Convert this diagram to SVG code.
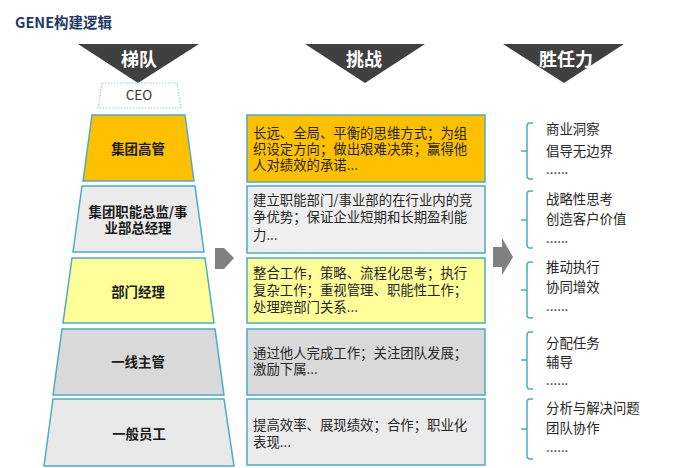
<svg xmlns="http://www.w3.org/2000/svg" width="673" height="468" viewBox="0 0 673 468">
<style>
.t{font-family:"Noto Sans CJK SC","Noto Sans",sans-serif;}
.hd{font-size:18px;font-weight:bold;fill:#ffffff;text-anchor:middle;}
.lv{font-size:13.4px;font-weight:bold;fill:#1a1a1a;text-anchor:middle;}
.bx{font-size:13.4px;fill:#262626;}
.cp{font-size:13.4px;fill:#333333;}
.lvl{stroke:#4BACC6;stroke-width:1.5;}
.br{fill:none;stroke:#4BACC6;stroke-width:1.5;}
.tri{fill:#404040;}
.arr{fill:#808080;}
</style>
<rect width="673" height="468" fill="#ffffff"/>
<text class="t" x="15" y="28" font-size="14.5" font-weight="bold" fill="#1F3864">GENE构建逻辑</text>

<g id="header-tidui"><polygon class="tri" points="78,44 199,44 138,83"/><text class="t hd" x="139" y="66">梯队</text></g>
<g id="header-tiaozhan"><polygon class="tri" points="305,44 425,44 365,83"/><text class="t hd" x="364" y="66">挑战</text></g>
<g id="header-shengrenli"><polygon class="tri" points="503,44 624,44 564,83"/><text class="t hd" x="566" y="66">胜任力</text></g>

<g id="ceo"><polygon points="102,83 177,83 181,108 98,108" fill="#ffffff" stroke="#8FD3D8" stroke-width="1.2" stroke-dasharray="1.5,1.5"/><text class="t cp" x="139" y="100" text-anchor="middle" font-family="Noto Sans">CEO</text></g>

<g id="level1"><polygon class="lvl" points="92,115 185,115 194,181 83,181" fill="#FFC000"/><text class="t lv" x="138" y="154">集团高管</text></g>
<g id="level2"><polygon class="lvl" points="82,186 195,186 204,252 73,252" fill="#EBEBEB"/><text class="t lv" x="138" y="217">集团职能总监/事</text><text class="t lv" x="138" y="233">业部总经理</text></g>
<g id="level3"><polygon class="lvl" points="72,258 205,258 214,323 63,323" fill="#FFFF9A"/><text class="t lv" x="138" y="297">部门经理</text></g>
<g id="level4"><polygon class="lvl" points="62,329 215,329 224,395 53,395" fill="#D9D9D9"/><text class="t lv" x="138" y="367">一线主管</text></g>
<g id="level5"><polygon class="lvl" points="53,399 224,399 234,466 44,466" fill="#E8E8E8"/><text class="t lv" x="139" y="439">一般员工</text></g>

<g id="challenge1"><rect class="lvl" x="247" y="115" width="238" height="67" fill="#FFC000"/>
<text class="t bx" x="253" y="138">长远、全局、平衡的思维方式；为组</text>
<text class="t bx" x="253" y="154">织设定方向；做出艰难决策；赢得他</text>
<text class="t bx" x="253" y="170">人对绩效的承诺...</text></g>
<g id="challenge2"><rect class="lvl" x="247" y="186" width="238" height="67" fill="#EFEFEF"/>
<text class="t bx" x="253" y="205">建立职能部门/事业部的在行业内的竞</text>
<text class="t bx" x="253" y="222">争优势；保证企业短期和长期盈利能</text>
<text class="t bx" x="253" y="240">力...</text></g>
<g id="challenge3"><rect class="lvl" x="247" y="258" width="238" height="65" fill="#FFFF9A"/>
<text class="t bx" x="253" y="278">整合工作，策略、流程化思考；执行</text>
<text class="t bx" x="253" y="295">复杂工作；重视管理、职能性工作；</text>
<text class="t bx" x="253" y="312">处理跨部门关系...</text></g>
<g id="challenge4"><rect class="lvl" x="247" y="329" width="238" height="66" fill="#D9D9D9"/>
<text class="t bx" x="253" y="358">通过他人完成工作；关注团队发展；</text>
<text class="t bx" x="253" y="374">激励下属...</text></g>
<g id="challenge5"><rect class="lvl" x="247" y="399" width="238" height="66" fill="#EBEBEB"/>
<text class="t bx" x="253" y="430">提高效率、展现绩效；合作；职业化</text>
<text class="t bx" x="253" y="447">表现...</text></g>

<g id="comp1"><path class="br" d="M533,123 H530 Q527,123 527,126 V151 M521,151 H527 M527,151 V176 Q527,179 530,179 H533"/>
<text class="t bx" x="546" y="134">商业洞察</text><text class="t bx" x="546" y="156">倡导无边界</text><text class="t bx" x="546" y="174">......</text></g>
<g id="comp2"><path class="br" d="M533,191 H530 Q527,191 527,194 V220 M521,220 H527 M527,220 V245 Q527,248 530,248 H533"/>
<text class="t bx" x="546" y="204">战略性思考</text><text class="t bx" x="546" y="224">创造客户价值</text><text class="t bx" x="546" y="243">......</text></g>
<g id="comp3"><path class="br" d="M533,262 H530 Q527,262 527,265 V290 M521,290 H527 M527,290 V315 Q527,318 530,318 H533"/>
<text class="t bx" x="546" y="272">推动执行</text><text class="t bx" x="546" y="292">协同增效</text><text class="t bx" x="546" y="311">......</text></g>
<g id="comp4"><path class="br" d="M533,332 H530 Q527,332 527,335 V360 M521,360 H527 M527,360 V386 Q527,389 530,389 H533"/>
<text class="t bx" x="546" y="348">分配任务</text><text class="t bx" x="546" y="367">辅导</text><text class="t bx" x="546" y="385">......</text></g>
<g id="comp5"><path class="br" d="M533,399 H530 Q527,399 527,402 V429 M521,429 H527 M527,429 V456 Q527,459 530,459 H533"/>
<text class="t bx" x="546" y="413">分析与解决问题</text><text class="t bx" x="546" y="433">团队协作</text><text class="t bx" x="546" y="452">......</text></g>

<g id="connectors">
<polygon class="arr" points="215,248 224,248 234,258 224,269 215,269"/>
<polygon class="arr" points="493,247 502,247 502,238 513,257 502,275 502,267 493,267"/>
</g>
</svg>
